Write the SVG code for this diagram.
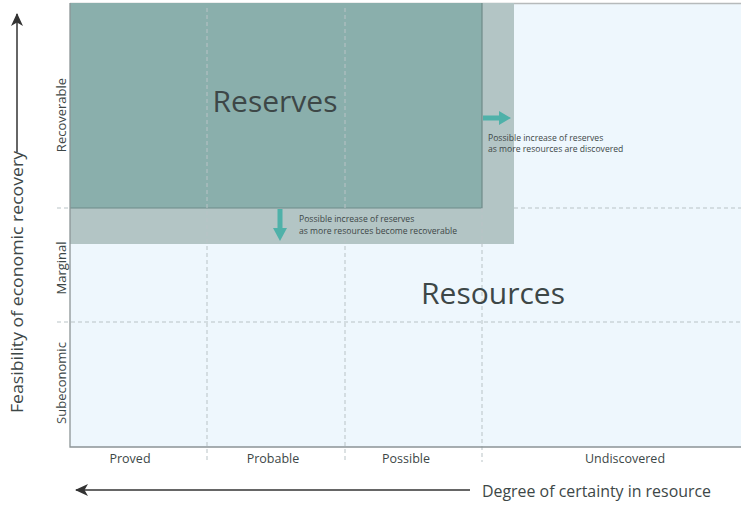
<svg xmlns="http://www.w3.org/2000/svg" width="741" height="506" viewBox="0 0 741 506">
<style>
text{font-family:"Open Sans","Noto Sans","Liberation Sans",sans-serif;fill:#3d4747}
.big{font-size:30px;text-anchor:middle}
.row{font-size:13px;text-anchor:middle}
.col{font-size:12.5px;text-anchor:middle}
.note{font-size:8.6px}
.axis{font-size:16px}
.grid{stroke:#b9c3c6;stroke-width:1;stroke-dasharray:4 3;fill:none}
</style>
<defs>
<marker id="ah" markerWidth="14" markerHeight="12" refX="12" refY="6" orient="auto" markerUnits="userSpaceOnUse">
<path d="M0,0 L13,6 L0,12 L3.5,6 Z" fill="#333"/>
</marker>
</defs>
<rect width="741" height="506" fill="#fff"/>
<g id="plot">
<rect x="70" y="3" width="671" height="444" fill="#eef7fd"/>
<line x1="70" y1="3.5" x2="741" y2="3.5" stroke="#b6babb" stroke-width="1.5"/>
</g>
<g id="band">
<rect x="70" y="3" width="444" height="241" fill="#b3c5c5"/>
</g>
<g id="reserves">
<rect x="70" y="3" width="412" height="205" fill="#8aafac"/>
<path d="M482,3 V208 H70" fill="none" stroke="#6f8b89" stroke-width="1.2"/>
<text class="big" x="275" y="112">Reserves</text>
</g>
<g id="grid">
<line class="grid" x1="207" y1="8" x2="207" y2="462"/>
<line class="grid" x1="345" y1="8" x2="345" y2="462"/>
<line class="grid" x1="482" y1="208" x2="482" y2="462"/>
<line class="grid" x1="57" y1="208" x2="70" y2="208"/>
<line class="grid" x1="514" y1="208" x2="741" y2="208"/>
<line class="grid" x1="57" y1="322" x2="741" y2="322"/>
</g>
<g id="frame">
<path d="M70,3 V447 H741" fill="none" stroke="#8c9496" stroke-width="1.3"/>
</g>
<g id="resources">
<text class="big" x="493" y="304">Resources</text>
</g>
<g id="connectors">
<path d="M483,115.5 H499 V111 L511,118 L499,125 V120.5 H483 Z" fill="#4fb1a9"/>
<path d="M277.5,209 V228 H273 L280,241 L287,228 H282.5 V209 Z" fill="#4fb1a9"/>
<line x1="17" y1="152" x2="17" y2="14" stroke="#333" stroke-width="1.5" marker-end="url(#ah)"/>
<line x1="470" y1="490" x2="76" y2="490" stroke="#333" stroke-width="1.5" marker-end="url(#ah)"/>
</g>
<g id="notes">
<text class="note" x="488" y="141">Possible increase of reserves</text>
<text class="note" x="488" y="152">as more resources are discovered</text>
<text class="note" x="299" y="222">Possible increase of reserves</text>
<text class="note" x="299" y="234">as more resources become recoverable</text>
</g>
<g id="rows">
<text class="row" transform="translate(66,115) rotate(-90)">Recoverable</text>
<text class="row" transform="translate(66,268) rotate(-90)">Marginal</text>
<text class="row" transform="translate(66,383) rotate(-90)">Subeconomic</text>
</g>
<g id="cols">
<text class="col" x="130" y="463">Proved</text>
<text class="col" x="273" y="463">Probable</text>
<text class="col" x="406" y="463">Possible</text>
<text class="col" x="625" y="463">Undiscovered</text>
</g>
<g id="axes">
<text class="axis" transform="translate(23,413) rotate(-90)" textLength="262" lengthAdjust="spacingAndGlyphs">Feasibility of economic recovery</text>
<text class="axis" x="482" y="497" textLength="229" lengthAdjust="spacingAndGlyphs">Degree of certainty in resource</text>
</g>
</svg>
